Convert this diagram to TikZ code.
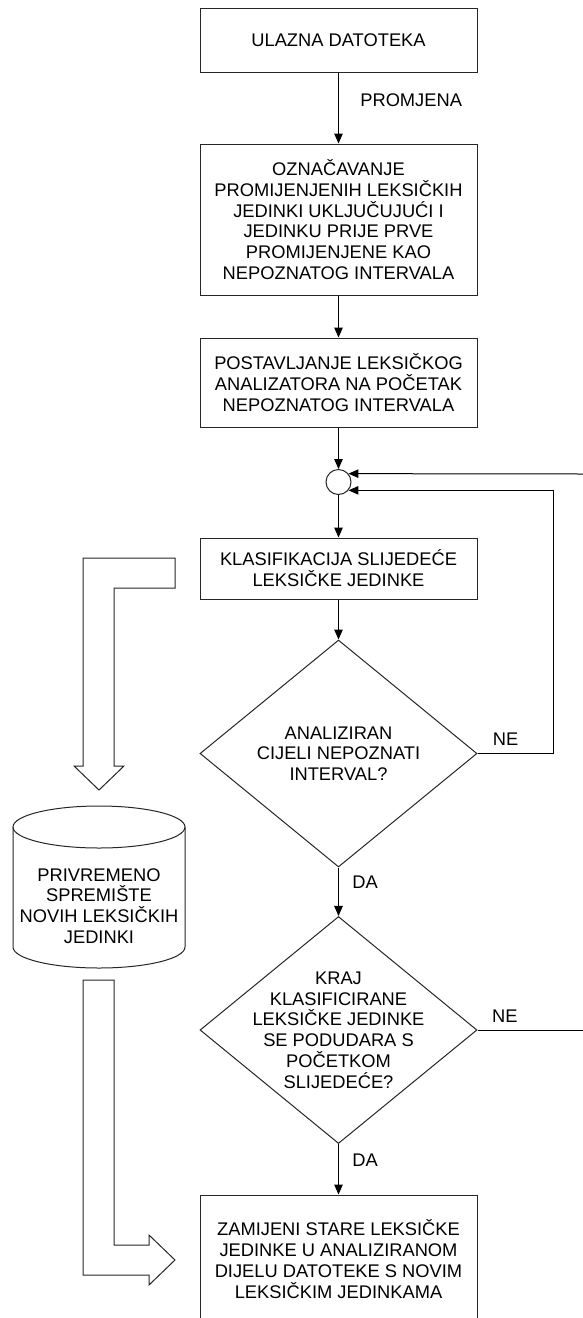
\documentclass[tikz,border=0pt]{standalone}
\usepackage{fontspec}
\setmainfont{Liberation Sans}
\usetikzlibrary{shapes.geometric,arrows.meta}
\begin{document}
\begin{tikzpicture}[x=1pt, y=-1pt, line width=1pt, line join=miter,
    font=\fontsize{18.3}{20.8}\selectfont, >={Triangle[length=10pt,width=8.5pt]},
    proc/.style={draw=black!85, rectangle, align=center, inner sep=0pt, minimum width=277pt},
    decision/.style={draw=black!85, diamond, inner sep=0pt, minimum width=277pt, minimum height=227pt},
    hollow/.style={draw=black!85, fill=white}]
  \useasboundingbox (0,0) rectangle (583,1318);
  \node[proc, minimum height=64pt] (input) at (338.5,40) {ULAZNA DATOTEKA};
  \node[proc, minimum height=151pt] (mark) at (338.5,219.5) {OZNAČAVANJE\\PROMIJENJENIH LEKSIČKIH\\JEDINKI UKLJUČUJUĆI I\\JEDINKU PRIJE PRVE\\PROMIJENJENE KAO\\NEPOZNATOG INTERVALA};
  \node[proc, minimum height=89pt] (lexer) at (338.5,382.5) {POSTAVLJANJE LEKSIČKOG\\ANALIZATORA NA POČETAK\\NEPOZNATOG INTERVALA};
  \node[draw=black!85, circle, minimum size=25pt, inner sep=0pt] (join) at (338.5,482) {};
  \node[proc, minimum height=61pt] (classify) at (338.5,568.5) {KLASIFIKACIJA SLIJEDEĆE\\LEKSIČKE JEDINKE};
  \node[decision, label={[align=center]center:ANALIZIRAN\\CIJELI NEPOZNATI\\INTERVAL?}] (done) at (338.5,753.5) {};
  \node[decision, label={[align=center]center:KRAJ\\KLASIFICIRANE\\LEKSIČKE JEDINKE\\SE PODUDARA S\\POČETKOM\\SLIJEDEĆE?}] (match) at (338.5,1030) {};
  \node[proc, minimum height=128pt] (replace) at (338.5,1259) {ZAMIJENI STARE LEKSIČKE\\JEDINKE U ANALIZIRANOM\\DIJELU DATOTEKE S NOVIM\\LEKSIČKIM JEDINKAMA};
  \node[align=center] (temp) at (99,906) {PRIVREMENO\\SPREMIŠTE\\NOVIH LEKSIČKIH\\JEDINKI};
  \coordinate (entry) at (583,474);
  \coordinate (exit) at (583,1030);

  % spremiste
  \draw[draw=black!85] (99,827) ellipse [x radius=86pt, y radius=21pt];
  \draw[draw=black!85] (13,827) -- (13,947) arc [start angle=180, end angle=360, x radius=86pt, y radius=21pt] -- (185,827);

  \draw[->] (input) -- node[pos=0.39, anchor=west, xshift=18pt] {PROMJENA} (mark);
  \draw[->] (mark) -- (lexer);
  \draw[->] (lexer) -- (join);
  \draw[->] (join) -- (classify);
  \draw[->] (classify) -- (done);
  \draw[->] (done) -- node[pos=0.3, anchor=west, xshift=10pt] {DA} (match);
  \draw[->] (match) -- node[pos=0.33, anchor=west, xshift=10pt] {DA} (replace);
  \draw[->] (done.east) -- node[pos=0.37, above=4pt] {NE} ++(76,0) |- (join.-40);
  \draw (match.east) -- node[pos=0.26, above=4pt] {NE} (exit);
  \draw[->] (entry) -- (join.40);

  \draw[hollow] (175,558) -- (175,588) -- (114,588) -- (114,766) -- (124,766) -- (99,790)
    -- (74,766) -- (83,766) -- (83,558) -- cycle;
  \draw[hollow] (83,980) -- (114,980) -- (114,1245) -- (149,1245) -- (149,1235) -- (175,1260)
    -- (149,1285) -- (149,1275) -- (83,1275) -- cycle;
\end{tikzpicture}
\end{document}
